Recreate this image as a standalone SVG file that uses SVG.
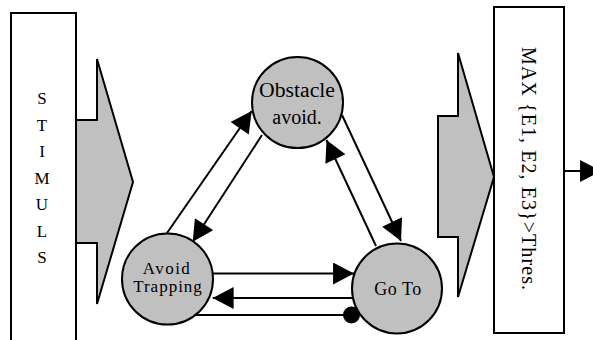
<svg xmlns="http://www.w3.org/2000/svg" width="593" height="340" viewBox="0 0 593 340">
<defs>
<style>
.box{fill:#fff;stroke:#000;stroke-width:2}
.big{fill:#c0c0c0;stroke:#000;stroke-width:2;stroke-linejoin:miter}
.node{fill:#c0c0c0;stroke:#000;stroke-width:2}
.edge{stroke:#000;stroke-width:2;fill:none}
.t{font-family:'Liberation Serif','Times New Roman','DejaVu Serif',serif;fill:#000}
</style>
<marker id="arr" markerUnits="userSpaceOnUse" markerWidth="22" markerHeight="22" refX="20" refY="10.5" orient="auto" viewBox="0 0 20 21">
<path d="M0,0 L20,10.5 L0,21 Z" fill="#000"/>
</marker>
</defs>
<rect width="593" height="340" fill="#fff"/>
<g id="stimuls">
<path class="box" d="M11,341 L11,13 L76,13 L76,341"/>
<g class="t" font-family="Liberation Serif, serif" font-size="17" text-anchor="middle">
<text x="42" y="104">S</text><text x="42" y="130.5">T</text><text x="42" y="157">I</text><text x="42" y="183.5">M</text><text x="42" y="210">U</text><text x="42" y="236.5">L</text><text x="42" y="263">S</text>
</g>
</g>
<g id="arrow-in">
<polygon class="big" points="76,120 97,120 97,59 133,182 97,304 97,243 76,243"/>
</g>
<g id="arrow-out">
<polygon class="big" points="438,116 458,116 458,53 494,177 458,297 458,237 438,237"/>
</g>
<g id="max">
<rect class="box" x="494" y="7" width="70" height="326"/>
<text class="t" font-family="Liberation Serif, serif" font-size="20" text-anchor="middle" transform="translate(522,168.5) rotate(90)" textLength="243" lengthAdjust="spacing">MAX {E1, E2, E3}&gt;Thres.</text>
</g>
<g id="connectors">
<line class="edge" x1="167" y1="233" x2="251.7" y2="111" marker-end="url(#arr)"/>
<line class="edge" x1="262" y1="135" x2="192.7" y2="241.7" marker-end="url(#arr)"/>
<line class="edge" x1="342" y1="115" x2="401" y2="241" marker-end="url(#arr)"/>
<line class="edge" x1="376" y1="246" x2="326.5" y2="140" marker-end="url(#arr)"/>
<line class="edge" x1="213" y1="273.5" x2="354" y2="273.5" marker-end="url(#arr)"/>
<line class="edge" x1="353" y1="298" x2="212.7" y2="298" marker-end="url(#arr)"/>
<line class="edge" x1="195" y1="315" x2="351" y2="315"/>
<circle cx="351.5" cy="315" r="8.5" fill="#000"/>
<line class="edge" x1="564" y1="171" x2="601" y2="171" marker-end="url(#arr)"/>
</g>
<g id="obstacle">
<circle class="node" cx="297.5" cy="102.5" r="45.5"/>
<text class="t" font-family="Liberation Serif, serif" font-size="20" text-anchor="middle" x="297" y="97" textLength="76" lengthAdjust="spacingAndGlyphs">Obstacle</text>
<text class="t" font-family="Liberation Serif, serif" font-size="20" text-anchor="middle" x="297" y="124">avoid.</text>
</g>
<g id="avoid">
<circle class="node" cx="167.5" cy="279" r="45.5"/>
<text class="t" font-family="Liberation Serif, serif" font-size="17" text-anchor="middle" x="167" y="274" letter-spacing="1.5">Avoid</text>
<text class="t" font-family="Liberation Serif, serif" font-size="17" text-anchor="middle" x="168" y="292" letter-spacing="1">Trapping</text>
</g>
<g id="goto">
<circle class="node" cx="397" cy="288.5" r="45"/>
<text class="t" font-family="Liberation Serif, serif" font-size="18" text-anchor="middle" x="398" y="295" letter-spacing="0.5">Go To</text>
</g>
</svg>
